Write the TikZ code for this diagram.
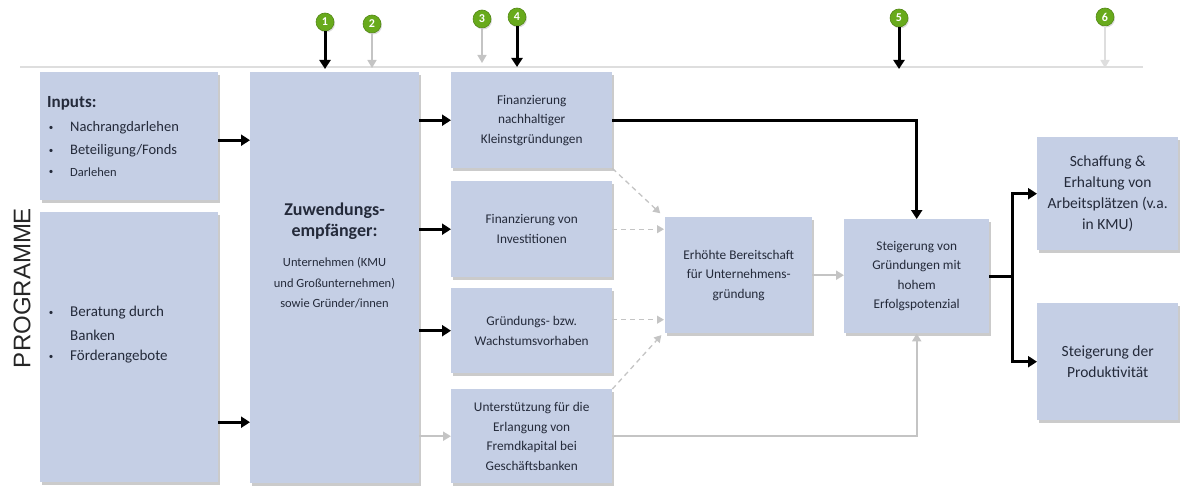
\documentclass[tikz,border=0pt]{standalone}
\usepackage{fontspec}
\setmainfont{Carlito}
\newfontfamily\headfont{Liberation Sans}
\usetikzlibrary{arrows.meta,shadows}
\definecolor{boxfill}{RGB}{197,207,229}
\definecolor{txt}{RGB}{36,42,58}
\definecolor{lgray}{RGB}{196,196,196}
\definecolor{ruleclr}{RGB}{222,222,222}
\definecolor{numgreen}{RGB}{104,170,28}
\tikzset{
  box/.style={fill=boxfill, draw=none, inner sep=2pt, align=center, text=txt,
    anchor=north west,
    drop shadow={shadow xshift=1.5pt, shadow yshift=-2.5pt, opacity=0.45, fill=black!45}},
  small/.style={font=\fontsize{13.3}{19.5}\selectfont},
  mid/.style={font=\fontsize{15.5}{20.8}\selectfont},
  item/.style={anchor=west, inner sep=0pt, text=txt, font=\fontsize{14.5}{16}\selectfont},
  dot/.style={anchor=center, inner sep=0pt, text=txt, font=\fontsize{9}{9}\selectfont},
  blk/.style={line width=3pt, draw=black, line join=miter,
    -{Triangle[length=9pt,width=11pt]}},
  gry/.style={line width=2pt, draw=lgray,
    -{Triangle[length=8pt,width=9pt]}},
  dsh/.style={line width=1.3pt, draw=lgray, dash pattern=on 5pt off 4pt,
    -{Triangle[length=7pt,width=8pt]}, shorten >=1pt},
  num/.style={circle, fill=numgreen, draw=numgreen!80!black, line width=0.6pt,
    text=white, inner sep=0pt, minimum size=18pt,
    font=\bfseries\fontsize{12}{12}\selectfont,
    drop shadow={shadow xshift=1pt, shadow yshift=-1.5pt, opacity=0.35, fill=black!40}},
}
\begin{document}
\begin{tikzpicture}[x=1pt,y=-1pt]
\useasboundingbox (0,0) rectangle (1182,489);

% top rule
\draw[ruleclr, line width=1.2pt] (20,67) coordinate (rl) -- (1143,67) coordinate (rr);

% side title
\node[rotate=90, text=black!85, font=\headfont\fontsize{24}{24}\selectfont] (prog) at (22,288) {PROGRAMME};

% left column
\node[box, minimum width=178pt, minimum height=128pt] (inp) at (40,72) {};
\node[anchor=west, inner sep=0pt, text=txt, font=\bfseries\fontsize{17}{18}\selectfont] (inph) at (47,103) {Inputs:};
\node[dot] (b1) at (51,128) {\textbullet};
\node[item] (i1) at (70,128) {Nachrangdarlehen};
\node[dot] (b2) at (51,151) {\textbullet};
\node[item] (i2) at (70,151) {Beteiligung/Fonds};
\node[dot] (b3) at (51,172) {\textbullet};
\node[item, font=\fontsize{12.5}{14}\selectfont] (i3) at (70,172) {Darlehen};

\node[box, minimum width=178pt, minimum height=270pt] (inp2) at (40,212) {};
\node[dot] (b4) at (51,313) {\textbullet};
\node[item, font=\fontsize{15}{16}\selectfont] (i4) at (70,313) {Beratung durch};
\node[item, font=\fontsize{15}{16}\selectfont] (i5) at (70,335) {Banken};
\node[dot] (b6) at (51,357) {\textbullet};
\node[item, font=\fontsize{15}{16}\selectfont] (i6) at (70,357) {Förderangebote};

% recipients
\node[box, minimum width=169pt, minimum height=411pt] (zw) at (250,72) {};
\node[text=txt, align=center, inner sep=0pt, font=\bfseries\fontsize{18}{21}\selectfont] (zwhead) at (334.5,221)
  {Zuwendungs-\\empfänger:};
\node[text=txt, align=center, inner sep=0pt, font=\fontsize{12.5}{20.5}\selectfont] (zwtxt) at (334.5,283)
  {Unternehmen (KMU\\und Großunternehmen)\\sowie Gründer/innen};

% measures
\node[box, small, minimum width=161pt, minimum height=96pt] (fn) at (451,72)
  {Finanzierung\\nachhaltiger\\Kleinstgründungen};
\node[box, small, minimum width=161pt, minimum height=96pt] (fi) at (451,181)
  {Finanzierung von\\Investitionen};
\node[box, small, minimum width=161pt, minimum height=85pt] (gr) at (451,288)
  {Gründungs- bzw.\\Wachstumsvorhaben};
\node[box, small, minimum width=161pt, minimum height=94pt] (ub) at (451,389)
  {Unterstützung für die\\Erlangung von\\Fremdkapital bei\\Geschäftsbanken};

% results
\node[box, small, minimum width=147pt, minimum height=116pt] (eb) at (665,217)
  {Erhöhte Bereitschaft\\für Unternehmens-\\gründung};
\node[box, small, minimum width=145pt, minimum height=114pt] (st) at (844,219)
  {Steigerung von\\Gründungen mit\\hohem\\Erfolgspotenzial};

% impacts
\node[box, mid, minimum width=141pt, minimum height=113pt] (sc) at (1037,137)
  {Schaffung \&\\Erhaltung von\\Arbeitsplätzen (v.a.\\in KMU)};
\node[box, mid, minimum width=141pt, minimum height=117pt] (pr) at (1037,303)
  {Steigerung der\\Produktivität};

% numbered markers
\node[num] (n1) at (325,22) {1};
\node[num] (n2) at (372,24) {2};
\node[num] (n3) at (482,19) {3};
\node[num] (n4) at (517,17) {4};
\node[num] (n5) at (899,18) {5};
\node[num] (n6) at (1105,17) {6};
\draw[blk] (n1.south) -- ([yshift=-2pt]n1.south |- rl);
\draw[gry, line width=1.5pt] (n2.south) -- ([yshift=-1pt]n2.south |- rl);
\draw[gry, line width=1.5pt] (n3.south) -- ([yshift=4pt]n3.south |- rl);
\draw[blk] (n4.south) -- (n4.south |- rl);
\draw[blk] (n5.south) -- ([yshift=-2pt]n5.south |- rl);
\draw[gry, line width=1.5pt, draw=ruleclr] (n6.south) -- ([yshift=-1pt]n6.south |- rl);

% inputs to recipients
\draw[blk] ([yshift=-4pt]inp.east) -- ([yshift=-4pt]inp.east -| zw.west);
\draw[blk] ([yshift=-75pt]inp2.east) -- ([yshift=-75pt]inp2.east -| zw.west);

% recipients to measures
\draw[blk] (zw.east |- fn.west) -- (fn.west);
\draw[blk] (zw.east |- fi.west) -- (fi.west);
\draw[blk] (zw.east |- gr.west) -- (gr.west);
\draw[gry] (zw.east |- ub.west) -- (ub.west);

% measures to results
\draw[blk] (fn.east) -| (st.north);
\draw[dsh] (fn.south east) -- ([shift={(-4pt,3pt)}]eb.north west);
\draw[dsh] (fi.east) -- (eb.west |- fi.east);
\draw[dsh] ([yshift=11pt]gr.east) -- ([yshift=11pt]eb.west |- gr.east);
\draw[dsh] (ub.north east) -- ([shift={(-3pt,-1pt)}]eb.south west);
\draw[gry] (eb.east) -- (eb.east -| st.west);
\draw[gry] (ub.east) -| (st.south);

% results to impacts
\draw[line width=3pt] (st.east) -- ++(23,0) coordinate (sp);
\draw[blk] ([yshift=-1.5pt]sp) |- (sc.west);
\draw[blk] ([yshift=1.5pt]sp) |- (pr.west);
\end{tikzpicture}
\end{document}
